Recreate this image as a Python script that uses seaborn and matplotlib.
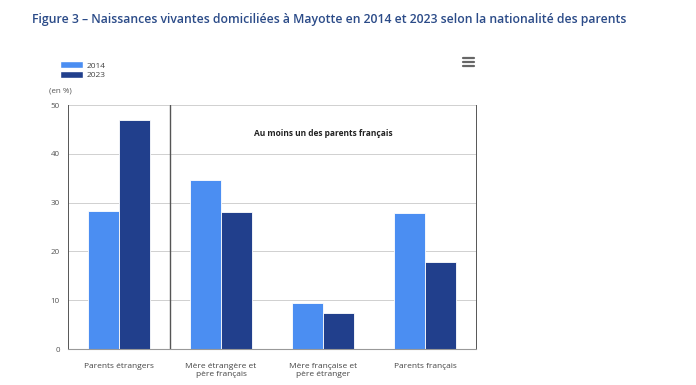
import pandas as pd
import matplotlib.pyplot as plt
import seaborn as sns
from matplotlib.lines import Line2D
from matplotlib.patches import Patch

categories = ["Parents étrangers", "Mère étrangère et\npère français",
              "Mère française et\npère étranger", "Parents français"]
years = ["2014", "2023"]
values_2014 = [28.2, 34.6, 9.4, 27.9]
values_2023 = [47.0, 28.1, 7.3, 17.9]

df = pd.DataFrame({
    "categorie": categories * 2,
    "annee": ["2014"] * 4 + ["2023"] * 4,
    "valeur": values_2014 + values_2023,
})

colors = {"2014": "#4b8ef2", "2023": "#213f8c"}

sns.set_style("white")
plt.rcParams['font.family'] = ['Open Sans', 'DejaVu Sans']

fig = plt.figure(figsize=(6.96, 3.85), dpi=100)
ax = fig.add_axes([68 / 696, 36 / 385, 408 / 696, 244 / 385])

sns.barplot(data=df, x="categorie", y="valeur", hue="annee",
            palette=colors, saturation=1, width=0.6,
            edgecolor="white", linewidth=0.6, ax=ax, legend=False)

ax.set_ylim(0, 50)
ax.set_yticks([0, 10, 20, 30, 40, 50])
ax.yaxis.grid(True, color="#d0d0d0", linewidth=0.7)
ax.set_axisbelow(True)
ax.set_xlabel("")
ax.set_ylabel("")
ax.tick_params(axis="y", labelsize=5.8, colors="#555555", length=0, pad=6)
ax.tick_params(axis="x", labelsize=6, colors="#444444", length=0, pad=10)
for s in ["left", "right"]:
    ax.spines[s].set_color("#555555")
    ax.spines[s].set_linewidth(0.7)
ax.spines["top"].set_visible(False)
ax.spines["bottom"].set_color("#999999")

# separateur
ax.axvline(0.5, color="#555555", linewidth=1.0)
ax.text(2, 44.2, "Au moins un des parents français", ha="center", va="center",
        fontsize=6, fontweight="bold", color="#222222")

fig.text(32 / 696, 1 - 20 / 385,
         "Figure 3 – Naissances vivantes domiciliées à Mayotte en 2014 et 2023 selon la nationalité des parents",
         fontsize=8.85, fontweight="semibold", color="#2b4b88", va="center")

# legende
handles = [Patch(facecolor=colors[y], label=y) for y in years]
fig.legend(handles=handles, loc="upper left", bbox_to_anchor=(52 / 696, 1 - 54 / 385),
           frameon=False, fontsize=6, handlelength=2.8, handleheight=0.9,
           labelspacing=0.15, handletextpad=0.4, labelcolor="#444444")

fig.text(49 / 696, 1 - 91 / 385, "(en %)", fontsize=5.8, color="#555555", va="center")

# icone menu
for yy in [58, 62, 66]:
    fig.add_artist(Line2D([463 / 696, 474 / 696], [1 - yy / 385, 1 - yy / 385],
                          color="#666666", linewidth=1.6))

fig.savefig("out.png", dpi=100, facecolor="white")
